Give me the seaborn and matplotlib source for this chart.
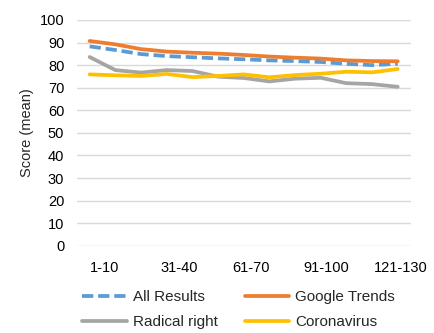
import numpy as np
import pandas as pd
import seaborn as sns
import matplotlib.pyplot as plt

# data
categories = ["1-10", "11-20", "21-30", "31-40", "41-50", "51-60", "61-70",
              "71-80", "81-90", "91-100", "101-110", "111-120", "121-130"]
all_results = [88.3, 86.7, 84.9, 84.0, 83.5, 83.0, 82.6, 82.1, 81.8, 81.4, 80.6, 80.0, 80.6]
google_trends = [90.7, 89.2, 87.1, 86.0, 85.5, 85.1, 84.5, 83.8, 83.3, 82.9, 82.1, 81.8, 81.7]
radical_right = [83.6, 77.8, 76.7, 77.8, 77.4, 74.9, 74.3, 72.8, 74.0, 74.4, 72.0, 71.6, 70.4]
coronavirus = [75.9, 75.5, 75.2, 76.1, 74.7, 75.2, 75.9, 74.6, 75.6, 76.2, 77.1, 76.8, 78.3]

series_names = ["All Results", "Google Trends", "Radical right", "Coronavirus"]
colors = ["#5B9BD5", "#ED7D31", "#A5A5A5", "#FFC000"]

sns.set_style("white")
plt.rcParams["font.family"] = ["Liberation Sans", "DejaVu Sans"]

df = pd.DataFrame({
    "pos": list(range(len(categories))) * 4,
    "score": all_results + google_trends + radical_right + coronavirus,
    "series": np.repeat(series_names, len(categories)),
})

fig = plt.figure(figsize=(4.34, 3.33), dpi=100)
ax = fig.add_axes([0.177, 0.262, 0.769, 0.678])

for name, col in zip(series_names, colors):
    sub = df[df["series"] == name]
    sns.lineplot(data=sub, x="pos", y="score", ax=ax, color=col, linewidth=2.7,
                 label=name, dashes=False)

ax.lines[0].set_dashes([3, 1.3])
ax.lines[0].set_dash_capstyle("butt")

ax.set_ylim(0, 100)
ax.set_yticks(range(0, 101, 10))
ax.set_xlim(-0.5, len(categories) - 0.5)
# labels every third category, nudged like the original layout
lab_idx = [0, 3, 6, 9, 12]
ax.set_xticks([0.6, 3.5, 6.3, 9.2, 12.1])
ax.set_xticklabels([categories[i] for i in lab_idx])
ax.grid(axis="y", color="#D9D9D9", linewidth=1)
ax.set_axisbelow(True)
for s in ax.spines.values():
    s.set_visible(False)
ax.tick_params(axis="y", length=0, labelsize=10.5, colors="#000000", pad=9)
ax.tick_params(axis="x", length=0, labelsize=10.5, colors="#000000", pad=11)
ax.set_xlabel("")
ax.set_ylabel("Score (mean)", fontsize=10.5, labelpad=4)

h, l = ax.get_legend_handles_labels()
order = [0, 2, 1, 3]
ax.legend([h[i] for i in order], [l[i] for i in order], ncol=2, frameon=False,
          loc="upper center", bbox_to_anchor=(0.485, -0.17), fontsize=11,
          handlelength=2.9, columnspacing=1.8, handletextpad=0.4, labelspacing=0.72,
          borderaxespad=0)

fig.savefig("out.png", dpi=100)
